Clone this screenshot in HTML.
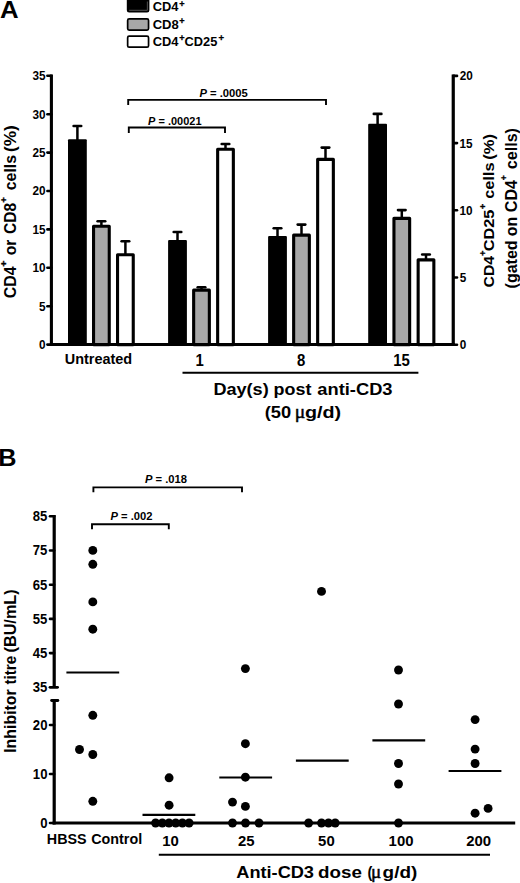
<!DOCTYPE html>
<html lang="en">
<head>
<meta charset="utf-8">
<title>Figure</title>
<style>
html,body{margin:0;padding:0;background:#fff;}
svg{display:block;}
text{font-family:"Liberation Sans", Arial, Helvetica, sans-serif;font-weight:bold;fill:#000;}
</style>
</head>
<body>
<svg width="520" height="883" viewBox="0 0 520 883">
<rect x="0" y="0" width="520" height="883" fill="#fff"/>
<rect x="127.65" y="-3" width="20.900000000000006" height="14.75" rx="1.5" ry="1.5" fill="#000" stroke="#000" stroke-width="1.7"/>
<polyline points="129.15,10.3 147.35000000000002,10.3 147.35000000000002,1.5" fill="none" stroke="#8a8a8a" stroke-width="0.6"/>
<rect x="127.65" y="18.9" width="20.900000000000006" height="11.2" rx="1.5" ry="1.5" fill="#a8a8a8" stroke="#000" stroke-width="1.7"/>
<rect x="127.65" y="36.2" width="20.900000000000006" height="11.0" rx="1.5" ry="1.5" fill="#fff" stroke="#000" stroke-width="1.7"/>
<line x1="51.4" y1="74.50000000000001" x2="51.4" y2="346.1" stroke="#000" stroke-width="3.1"/>
<line x1="49.849999999999994" y1="344.6" x2="454.84999999999997" y2="344.6" stroke="#000" stroke-width="3"/>
<line x1="453.25" y1="74.60000000000001" x2="453.25" y2="346.1" stroke="#000" stroke-width="3.2"/>
<line x1="47.4" y1="344.6" x2="51.3" y2="344.6" stroke="#000" stroke-width="2.6" stroke-linecap="round"/>
<line x1="47.4" y1="306.20000000000005" x2="51.3" y2="306.20000000000005" stroke="#000" stroke-width="2.6" stroke-linecap="round"/>
<line x1="47.4" y1="267.8" x2="51.3" y2="267.8" stroke="#000" stroke-width="2.6" stroke-linecap="round"/>
<line x1="47.4" y1="229.40000000000003" x2="51.3" y2="229.40000000000003" stroke="#000" stroke-width="2.6" stroke-linecap="round"/>
<line x1="47.4" y1="191.00000000000003" x2="51.3" y2="191.00000000000003" stroke="#000" stroke-width="2.6" stroke-linecap="round"/>
<line x1="47.4" y1="152.60000000000002" x2="51.3" y2="152.60000000000002" stroke="#000" stroke-width="2.6" stroke-linecap="round"/>
<line x1="47.4" y1="114.20000000000005" x2="51.3" y2="114.20000000000005" stroke="#000" stroke-width="2.6" stroke-linecap="round"/>
<line x1="47.4" y1="75.80000000000001" x2="51.3" y2="75.80000000000001" stroke="#000" stroke-width="2.6" stroke-linecap="round"/>
<line x1="453.4" y1="344.7" x2="457.0" y2="344.7" stroke="#000" stroke-width="2.6" stroke-linecap="round"/>
<line x1="453.4" y1="277.5" x2="457.0" y2="277.5" stroke="#000" stroke-width="2.6" stroke-linecap="round"/>
<line x1="453.4" y1="210.29999999999998" x2="457.0" y2="210.29999999999998" stroke="#000" stroke-width="2.6" stroke-linecap="round"/>
<line x1="453.4" y1="143.1" x2="457.0" y2="143.1" stroke="#000" stroke-width="2.6" stroke-linecap="round"/>
<line x1="453.4" y1="75.89999999999998" x2="457.0" y2="75.89999999999998" stroke="#000" stroke-width="2.6" stroke-linecap="round"/>
<line x1="77.4" y1="126.0" x2="77.4" y2="141.3" stroke="#000" stroke-width="2.5"/>
<line x1="73.60000000000001" y1="126.0" x2="81.2" y2="126.0" stroke="#000" stroke-width="2.6" stroke-linecap="round"/>
<rect x="68.0" y="139.3" width="18.8" height="205.3" rx="1" ry="1" fill="#000"/>
<line x1="101.4" y1="221.2" x2="101.4" y2="226.7" stroke="#000" stroke-width="2.5"/>
<line x1="97.60000000000001" y1="221.2" x2="105.2" y2="221.2" stroke="#000" stroke-width="2.6" stroke-linecap="round"/>
<rect x="93.55" y="226.25" width="15.700000000000001" height="118.35000000000004" fill="#a8a8a8" stroke="#000" stroke-width="3.1" stroke-linejoin="round"/>
<line x1="125.4" y1="241.3" x2="125.4" y2="255.2" stroke="#000" stroke-width="2.5"/>
<line x1="121.60000000000001" y1="241.3" x2="129.20000000000002" y2="241.3" stroke="#000" stroke-width="2.6" stroke-linecap="round"/>
<rect x="117.55" y="254.75" width="15.700000000000001" height="89.85000000000004" fill="#fff" stroke="#000" stroke-width="3.1" stroke-linejoin="round"/>
<line x1="177.5" y1="232.0" x2="177.5" y2="242.0" stroke="#000" stroke-width="2.5"/>
<line x1="173.7" y1="232.0" x2="181.3" y2="232.0" stroke="#000" stroke-width="2.6" stroke-linecap="round"/>
<rect x="168.1" y="240.0" width="18.8" height="104.60000000000002" rx="1" ry="1" fill="#000"/>
<line x1="201.5" y1="287.3" x2="201.5" y2="290.6" stroke="#000" stroke-width="2.5"/>
<line x1="197.7" y1="287.3" x2="205.3" y2="287.3" stroke="#000" stroke-width="2.6" stroke-linecap="round"/>
<rect x="193.65" y="290.15000000000003" width="15.700000000000001" height="54.45" fill="#a8a8a8" stroke="#000" stroke-width="3.1" stroke-linejoin="round"/>
<line x1="225.5" y1="144.0" x2="225.5" y2="149.7" stroke="#000" stroke-width="2.5"/>
<line x1="221.7" y1="144.0" x2="229.3" y2="144.0" stroke="#000" stroke-width="2.6" stroke-linecap="round"/>
<rect x="217.65" y="149.25" width="15.700000000000001" height="195.35000000000002" fill="#fff" stroke="#000" stroke-width="3.1" stroke-linejoin="round"/>
<line x1="277.5" y1="228.2" x2="277.5" y2="238.0" stroke="#000" stroke-width="2.5"/>
<line x1="273.7" y1="228.2" x2="281.3" y2="228.2" stroke="#000" stroke-width="2.6" stroke-linecap="round"/>
<rect x="268.1" y="236.0" width="18.8" height="108.60000000000002" rx="1" ry="1" fill="#000"/>
<line x1="301.5" y1="224.6" x2="301.5" y2="235.6" stroke="#000" stroke-width="2.5"/>
<line x1="297.7" y1="224.6" x2="305.3" y2="224.6" stroke="#000" stroke-width="2.6" stroke-linecap="round"/>
<rect x="293.65000000000003" y="235.15" width="15.700000000000001" height="109.45000000000003" fill="#a8a8a8" stroke="#000" stroke-width="3.1" stroke-linejoin="round"/>
<line x1="325.5" y1="147.6" x2="325.5" y2="159.8" stroke="#000" stroke-width="2.5"/>
<line x1="321.7" y1="147.6" x2="329.3" y2="147.6" stroke="#000" stroke-width="2.6" stroke-linecap="round"/>
<rect x="317.65000000000003" y="159.35000000000002" width="15.700000000000001" height="185.25" fill="#fff" stroke="#000" stroke-width="3.1" stroke-linejoin="round"/>
<line x1="377.6" y1="113.9" x2="377.6" y2="125.8" stroke="#000" stroke-width="2.5"/>
<line x1="373.8" y1="113.9" x2="381.40000000000003" y2="113.9" stroke="#000" stroke-width="2.6" stroke-linecap="round"/>
<rect x="368.20000000000005" y="123.8" width="18.8" height="220.8" rx="1" ry="1" fill="#000"/>
<line x1="401.8" y1="210.1" x2="401.8" y2="218.8" stroke="#000" stroke-width="2.5"/>
<line x1="398.0" y1="210.1" x2="405.6" y2="210.1" stroke="#000" stroke-width="2.6" stroke-linecap="round"/>
<rect x="393.95000000000005" y="218.35000000000002" width="15.700000000000001" height="126.25000000000001" fill="#a8a8a8" stroke="#000" stroke-width="3.1" stroke-linejoin="round"/>
<line x1="426.0" y1="254.5" x2="426.0" y2="260.3" stroke="#000" stroke-width="2.5"/>
<line x1="422.2" y1="254.5" x2="429.8" y2="254.5" stroke="#000" stroke-width="2.6" stroke-linecap="round"/>
<rect x="418.15000000000003" y="259.85" width="15.700000000000001" height="84.75000000000001" fill="#fff" stroke="#000" stroke-width="3.1" stroke-linejoin="round"/>
<polyline points="128.2,104.9 128.2,99.9 326.0,99.9 326.0,104.9" fill="none" stroke="#000" stroke-width="1.9"/>
<polyline points="128.8,133.1 128.8,127.5 225.0,127.5 225.0,133.1" fill="none" stroke="#000" stroke-width="1.9"/>
<line x1="182.5" y1="372.8" x2="418.4" y2="372.8" stroke="#000" stroke-width="2.1"/>
<line x1="54.2" y1="700.5" x2="54.2" y2="824.5" stroke="#000" stroke-width="3.2"/>
<line x1="51.6" y1="700.5" x2="57.9" y2="700.5" stroke="#000" stroke-width="2.8" stroke-linecap="round"/>
<line x1="54.2" y1="515.0" x2="54.2" y2="687.3" stroke="#000" stroke-width="3.2"/>
<line x1="50.0" y1="687.3" x2="57.6" y2="687.3" stroke="#000" stroke-width="2.8" stroke-linecap="round"/>
<line x1="52.6" y1="823.0" x2="515.2" y2="823.0" stroke="#000" stroke-width="3"/>
<line x1="50.0" y1="823.0" x2="54.1" y2="823.0" stroke="#000" stroke-width="2.6" stroke-linecap="round"/>
<line x1="50.0" y1="774.0" x2="54.1" y2="774.0" stroke="#000" stroke-width="2.6" stroke-linecap="round"/>
<line x1="50.0" y1="725.0" x2="54.1" y2="725.0" stroke="#000" stroke-width="2.6" stroke-linecap="round"/>
<line x1="50.0" y1="653.0999999999999" x2="54.1" y2="653.0999999999999" stroke="#000" stroke-width="2.6" stroke-linecap="round"/>
<line x1="50.0" y1="618.9" x2="54.1" y2="618.9" stroke="#000" stroke-width="2.6" stroke-linecap="round"/>
<line x1="50.0" y1="584.6999999999999" x2="54.1" y2="584.6999999999999" stroke="#000" stroke-width="2.6" stroke-linecap="round"/>
<line x1="50.0" y1="550.5" x2="54.1" y2="550.5" stroke="#000" stroke-width="2.6" stroke-linecap="round"/>
<line x1="50.0" y1="516.3" x2="54.1" y2="516.3" stroke="#000" stroke-width="2.6" stroke-linecap="round"/>
<circle cx="92.8" cy="550.4" r="4.45" fill="#000"/>
<circle cx="92.8" cy="564.3" r="4.45" fill="#000"/>
<circle cx="92.8" cy="601.9" r="4.45" fill="#000"/>
<circle cx="92.8" cy="629.2" r="4.45" fill="#000"/>
<circle cx="92.8" cy="715.3" r="4.45" fill="#000"/>
<circle cx="79.5" cy="749.5" r="4.45" fill="#000"/>
<circle cx="92.8" cy="754.5" r="4.45" fill="#000"/>
<circle cx="92.8" cy="801.3" r="4.45" fill="#000"/>
<line x1="66.4" y1="672.5" x2="119.19999999999999" y2="672.5" stroke="#000" stroke-width="2.1"/>
<circle cx="169.1" cy="777.8" r="4.45" fill="#000"/>
<circle cx="169.1" cy="805.2" r="4.45" fill="#000"/>
<circle cx="155.6" cy="823.0" r="4.45" fill="#000"/>
<circle cx="162.3" cy="823.0" r="4.45" fill="#000"/>
<circle cx="169.0" cy="823.0" r="4.45" fill="#000"/>
<circle cx="175.7" cy="823.0" r="4.45" fill="#000"/>
<circle cx="182.4" cy="823.0" r="4.45" fill="#000"/>
<circle cx="189.1" cy="823.0" r="4.45" fill="#000"/>
<line x1="142.5" y1="814.9" x2="195.3" y2="814.9" stroke="#000" stroke-width="2.1"/>
<circle cx="245.4" cy="668.6" r="4.45" fill="#000"/>
<circle cx="245.4" cy="743.7" r="4.45" fill="#000"/>
<circle cx="245.4" cy="777.2" r="4.45" fill="#000"/>
<circle cx="232.5" cy="802.1" r="4.45" fill="#000"/>
<circle cx="245.4" cy="806.4" r="4.45" fill="#000"/>
<circle cx="232.5" cy="823.0" r="4.45" fill="#000"/>
<circle cx="245.5" cy="823.0" r="4.45" fill="#000"/>
<circle cx="259.0" cy="823.0" r="4.45" fill="#000"/>
<line x1="219.29999999999998" y1="777.5" x2="272.09999999999997" y2="777.5" stroke="#000" stroke-width="2.1"/>
<circle cx="321.5" cy="591.4" r="4.45" fill="#000"/>
<circle cx="308.6" cy="823.0" r="4.45" fill="#000"/>
<circle cx="321.5" cy="823.0" r="4.45" fill="#000"/>
<circle cx="328.5" cy="823.0" r="4.45" fill="#000"/>
<circle cx="335.2" cy="823.0" r="4.45" fill="#000"/>
<line x1="295.90000000000003" y1="760.6" x2="348.7" y2="760.6" stroke="#000" stroke-width="2.1"/>
<circle cx="398.5" cy="670.0" r="4.45" fill="#000"/>
<circle cx="398.5" cy="704.0" r="4.45" fill="#000"/>
<circle cx="398.5" cy="763.5" r="4.45" fill="#000"/>
<circle cx="398.5" cy="784.0" r="4.45" fill="#000"/>
<circle cx="398.5" cy="823.0" r="4.45" fill="#000"/>
<line x1="372.40000000000003" y1="740.4" x2="425.2" y2="740.4" stroke="#000" stroke-width="2.1"/>
<circle cx="475.1" cy="719.6" r="4.45" fill="#000"/>
<circle cx="475.1" cy="749.1" r="4.45" fill="#000"/>
<circle cx="475.1" cy="763.5" r="4.45" fill="#000"/>
<circle cx="488.1" cy="808.4" r="4.45" fill="#000"/>
<circle cx="475.1" cy="813.2" r="4.45" fill="#000"/>
<line x1="448.6" y1="771.0" x2="501.4" y2="771.0" stroke="#000" stroke-width="2.1"/>
<polyline points="93.4,492.2 93.4,487.4 242.0,487.4 242.0,492.2" fill="none" stroke="#000" stroke-width="1.9"/>
<polyline points="92.0,529.1999999999999 92.0,524.3 168.8,524.3 168.8,529.1999999999999" fill="none" stroke="#000" stroke-width="1.9"/>
<line x1="158.8" y1="854.7" x2="490.0" y2="854.7" stroke="#000" stroke-width="2.1"/>
<text transform="translate(0.60,17.90)" font-size="23.2" xml:space="preserve" style="white-space:pre"><tspan x="-0.64" y="-0.00" textLength="18.62" lengthAdjust="spacingAndGlyphs">A</tspan></text>
<text transform="translate(153.20,11.30)" font-size="12.5" xml:space="preserve" style="white-space:pre"><tspan x="-0.53" y="-0.00" textLength="25.80" lengthAdjust="spacingAndGlyphs">CD4</tspan><tspan x="26.01" y="-4.40" textLength="5.36" lengthAdjust="spacingAndGlyphs" font-size="9.40" stroke="#000" stroke-width="0.3">+</tspan></text>
<text transform="translate(153.20,28.60)" font-size="12.5" xml:space="preserve" style="white-space:pre"><tspan x="-0.54" y="-0.00" textLength="26.14" lengthAdjust="spacingAndGlyphs">CD8</tspan><tspan x="26.01" y="-4.40" textLength="5.36" lengthAdjust="spacingAndGlyphs" font-size="9.40" stroke="#000" stroke-width="0.3">+</tspan></text>
<text transform="translate(153.20,45.50)" font-size="12.5" xml:space="preserve" style="white-space:pre"><tspan x="-0.53" y="-0.00" textLength="25.80" lengthAdjust="spacingAndGlyphs">CD4</tspan><tspan x="26.01" y="-4.40" textLength="5.36" lengthAdjust="spacingAndGlyphs" font-size="9.40" stroke="#000" stroke-width="0.3">+</tspan><tspan x="31.38" y="-0.00" textLength="32.68" lengthAdjust="spacingAndGlyphs">CD25</tspan><tspan x="65.30" y="-4.40" textLength="5.59" lengthAdjust="spacingAndGlyphs" font-size="9.40" stroke="#000" stroke-width="0.3">+</tspan></text>
<text transform="translate(39.58,348.90)" font-size="12.3" xml:space="preserve" style="white-space:pre"><tspan x="-0.47" y="-0.00" textLength="6.57" lengthAdjust="spacingAndGlyphs">0</tspan></text>
<text transform="translate(39.32,310.50)" font-size="12.3" xml:space="preserve" style="white-space:pre"><tspan x="-0.36" y="-0.00" textLength="6.57" lengthAdjust="spacingAndGlyphs">5</tspan></text>
<text transform="translate(33.29,272.10)" font-size="12.3" xml:space="preserve" style="white-space:pre"><tspan x="-0.74" y="-0.00" textLength="13.13" lengthAdjust="spacingAndGlyphs">10</tspan></text>
<text transform="translate(33.14,233.70)" font-size="12.3" xml:space="preserve" style="white-space:pre"><tspan x="-0.74" y="-0.00" textLength="13.13" lengthAdjust="spacingAndGlyphs">15</tspan></text>
<text transform="translate(32.96,195.30)" font-size="12.3" xml:space="preserve" style="white-space:pre"><tspan x="-0.41" y="-0.00" textLength="13.13" lengthAdjust="spacingAndGlyphs">20</tspan></text>
<text transform="translate(32.80,156.90)" font-size="12.3" xml:space="preserve" style="white-space:pre"><tspan x="-0.41" y="-0.00" textLength="13.13" lengthAdjust="spacingAndGlyphs">25</tspan></text>
<text transform="translate(32.82,118.50)" font-size="12.3" xml:space="preserve" style="white-space:pre"><tspan x="-0.27" y="-0.00" textLength="13.13" lengthAdjust="spacingAndGlyphs">30</tspan></text>
<text transform="translate(32.67,80.10)" font-size="12.3" xml:space="preserve" style="white-space:pre"><tspan x="-0.27" y="-0.00" textLength="13.13" lengthAdjust="spacingAndGlyphs">35</tspan></text>
<text transform="translate(460.20,349.10)" font-size="12.5" xml:space="preserve" style="white-space:pre"><tspan x="-0.46" y="-0.00" textLength="6.53" lengthAdjust="spacingAndGlyphs">0</tspan></text>
<text transform="translate(460.20,281.90)" font-size="12.5" xml:space="preserve" style="white-space:pre"><tspan x="-0.36" y="-0.00" textLength="6.53" lengthAdjust="spacingAndGlyphs">5</tspan></text>
<text transform="translate(460.20,214.70)" font-size="12.5" xml:space="preserve" style="white-space:pre"><tspan x="-0.74" y="-0.00" textLength="13.07" lengthAdjust="spacingAndGlyphs">10</tspan></text>
<text transform="translate(460.20,147.50)" font-size="12.5" xml:space="preserve" style="white-space:pre"><tspan x="-0.74" y="-0.00" textLength="13.07" lengthAdjust="spacingAndGlyphs">15</tspan></text>
<text transform="translate(460.20,80.30)" font-size="12.5" xml:space="preserve" style="white-space:pre"><tspan x="-0.41" y="-0.00" textLength="13.07" lengthAdjust="spacingAndGlyphs">20</tspan></text>
<text transform="translate(199.60,96.70)" font-size="10.6" xml:space="preserve" style="white-space:pre"><tspan x="-0.20" y="-0.00" textLength="7.49" lengthAdjust="spacingAndGlyphs" font-style="italic">P</tspan><tspan x="7.30" y="-0.00" textLength="40.92" lengthAdjust="spacingAndGlyphs"> = .0005</tspan></text>
<text transform="translate(148.30,124.50)" font-size="10.6" xml:space="preserve" style="white-space:pre"><tspan x="-0.19" y="-0.00" textLength="7.32" lengthAdjust="spacingAndGlyphs" font-style="italic">P</tspan><tspan x="7.13" y="-0.00" textLength="46.08" lengthAdjust="spacingAndGlyphs"> = .00021</tspan></text>
<text transform="translate(65.60,364.40)" font-size="14.0" xml:space="preserve" style="white-space:pre"><tspan x="-0.87" y="-0.00" textLength="67.42" lengthAdjust="spacingAndGlyphs">Untreated</tspan></text>
<text transform="translate(196.33,365.80)" font-size="15.8" xml:space="preserve" style="white-space:pre"><tspan x="-0.94" y="-0.00" textLength="8.30" lengthAdjust="spacingAndGlyphs">1</tspan></text>
<text transform="translate(297.51,365.80)" font-size="15.8" xml:space="preserve" style="white-space:pre"><tspan x="-0.47" y="-0.00" textLength="8.30" lengthAdjust="spacingAndGlyphs">8</tspan></text>
<text transform="translate(394.07,365.80)" font-size="15.8" xml:space="preserve" style="white-space:pre"><tspan x="-0.94" y="-0.00" textLength="16.61" lengthAdjust="spacingAndGlyphs">15</tspan></text>
<text transform="translate(214.60,395.00)" font-size="16.5" xml:space="preserve" style="white-space:pre"><tspan x="-1.21" y="-0.00" textLength="60.34" lengthAdjust="spacingAndGlyphs">Day(s) </tspan><tspan x="59.02" y="-0.00" textLength="42.77" lengthAdjust="spacingAndGlyphs">post </tspan><tspan x="102.76" y="-0.00" textLength="75.20" lengthAdjust="spacingAndGlyphs">anti-CD3</tspan></text>
<text transform="translate(265.60,417.90)" font-size="16.5" xml:space="preserve" style="white-space:pre"><tspan x="-0.91" y="-0.00" textLength="31.55" lengthAdjust="spacingAndGlyphs">(50 </tspan><tspan x="29.11" y="-0.00" textLength="10.49" lengthAdjust="spacingAndGlyphs" font-size="18.50" stroke="#000" stroke-width="0.45" font-weight="normal" font-family="'Liberation Serif', 'DejaVu Serif', serif">μ</tspan><tspan x="39.39" y="-0.00" textLength="36.19" lengthAdjust="spacingAndGlyphs">g/d)</tspan></text>
<text transform="translate(16.20,297.70) rotate(-90)" font-size="15.6" xml:space="preserve" style="white-space:pre"><tspan x="-0.65" y="-0.00" textLength="31.94" lengthAdjust="spacingAndGlyphs">CD4</tspan><tspan x="30.95" y="-9.40" textLength="9.28" lengthAdjust="spacingAndGlyphs" font-size="9.60" stroke="#000" stroke-width="0.3">+ </tspan><tspan x="42.49" y="-0.00" textLength="20.00" lengthAdjust="spacingAndGlyphs">or </tspan><tspan x="63.76" y="-0.00" textLength="31.12" lengthAdjust="spacingAndGlyphs">CD8</tspan><tspan x="94.89" y="-9.40" textLength="8.42" lengthAdjust="spacingAndGlyphs" font-size="9.60" stroke="#000" stroke-width="0.3">+ </tspan><tspan x="107.48" y="-0.00" textLength="39.68" lengthAdjust="spacingAndGlyphs">cells </tspan><tspan x="145.64" y="-0.00" textLength="26.92" lengthAdjust="spacingAndGlyphs">(%)</tspan></text>
<text transform="translate(494.40,286.80) rotate(-90)" font-size="15.2" xml:space="preserve" style="white-space:pre"><tspan x="-0.64" y="-0.00" textLength="31.43" lengthAdjust="spacingAndGlyphs">CD4</tspan><tspan x="30.81" y="-8.90" textLength="5.36" lengthAdjust="spacingAndGlyphs" font-size="9.60" stroke="#000" stroke-width="0.3">+</tspan><tspan x="35.53" y="-0.00" textLength="41.72" lengthAdjust="spacingAndGlyphs">CD25</tspan><tspan x="77.60" y="-8.90" textLength="8.25" lengthAdjust="spacingAndGlyphs" font-size="9.60" stroke="#000" stroke-width="0.3">+ </tspan><tspan x="87.96" y="-0.00" textLength="40.84" lengthAdjust="spacingAndGlyphs">cells </tspan><tspan x="127.08" y="-0.00" textLength="25.75" lengthAdjust="spacingAndGlyphs">(%)</tspan></text>
<text transform="translate(516.70,287.60) rotate(-90)" font-size="16.0" xml:space="preserve" style="white-space:pre"><tspan x="-0.80" y="-0.00" textLength="52.50" lengthAdjust="spacingAndGlyphs">(gated </tspan><tspan x="51.38" y="-0.00" textLength="23.68" lengthAdjust="spacingAndGlyphs">on </tspan><tspan x="75.44" y="-0.00" textLength="32.15" lengthAdjust="spacingAndGlyphs">CD4</tspan><tspan x="107.24" y="-9.30" textLength="7.39" lengthAdjust="spacingAndGlyphs" font-size="9.60" stroke="#000" stroke-width="0.3">+ </tspan><tspan x="118.47" y="-0.00" textLength="41.03" lengthAdjust="spacingAndGlyphs">cells)</tspan></text>
<text transform="translate(-0.10,466.10)" font-size="24.4" xml:space="preserve" style="white-space:pre"><tspan x="-1.69" y="-0.00" textLength="18.24" lengthAdjust="spacingAndGlyphs">B</tspan></text>
<text transform="translate(40.66,827.90)" font-size="15.0" xml:space="preserve" style="white-space:pre"><tspan x="-0.52" y="-0.00" textLength="7.30" lengthAdjust="spacingAndGlyphs">0</tspan></text>
<text transform="translate(33.67,778.90)" font-size="15.0" xml:space="preserve" style="white-space:pre"><tspan x="-0.83" y="-0.00" textLength="14.60" lengthAdjust="spacingAndGlyphs">10</tspan></text>
<text transform="translate(33.29,729.90)" font-size="15.0" xml:space="preserve" style="white-space:pre"><tspan x="-0.46" y="-0.00" textLength="14.60" lengthAdjust="spacingAndGlyphs">20</tspan></text>
<text transform="translate(32.97,692.20)" font-size="15.0" xml:space="preserve" style="white-space:pre"><tspan x="-0.30" y="-0.00" textLength="14.60" lengthAdjust="spacingAndGlyphs">35</tspan></text>
<text transform="translate(32.86,658.00)" font-size="15.0" xml:space="preserve" style="white-space:pre"><tspan x="-0.20" y="-0.00" textLength="14.60" lengthAdjust="spacingAndGlyphs">45</tspan></text>
<text transform="translate(33.07,623.80)" font-size="15.0" xml:space="preserve" style="white-space:pre"><tspan x="-0.40" y="-0.00" textLength="14.60" lengthAdjust="spacingAndGlyphs">55</tspan></text>
<text transform="translate(33.15,589.60)" font-size="15.0" xml:space="preserve" style="white-space:pre"><tspan x="-0.48" y="-0.00" textLength="14.60" lengthAdjust="spacingAndGlyphs">65</tspan></text>
<text transform="translate(33.23,555.40)" font-size="15.0" xml:space="preserve" style="white-space:pre"><tspan x="-0.56" y="-0.00" textLength="14.60" lengthAdjust="spacingAndGlyphs">75</tspan></text>
<text transform="translate(33.08,521.20)" font-size="15.0" xml:space="preserve" style="white-space:pre"><tspan x="-0.42" y="-0.00" textLength="14.60" lengthAdjust="spacingAndGlyphs">85</tspan></text>
<text transform="translate(145.10,483.10)" font-size="10.8" xml:space="preserve" style="white-space:pre"><tspan x="-0.20" y="-0.00" textLength="7.47" lengthAdjust="spacingAndGlyphs" font-style="italic">P</tspan><tspan x="7.27" y="-0.00" textLength="34.57" lengthAdjust="spacingAndGlyphs"> = .018</tspan></text>
<text transform="translate(110.60,520.10)" font-size="10.8" xml:space="preserve" style="white-space:pre"><tspan x="-0.20" y="-0.00" textLength="7.47" lengthAdjust="spacingAndGlyphs" font-style="italic">P</tspan><tspan x="7.28" y="-0.00" textLength="34.57" lengthAdjust="spacingAndGlyphs"> = .002</tspan></text>
<text transform="translate(47.80,844.00)" font-size="14.0" xml:space="preserve" style="white-space:pre"><tspan x="-0.96" y="-0.00" textLength="43.80" lengthAdjust="spacingAndGlyphs">HBSS </tspan><tspan x="43.41" y="-0.00" textLength="50.90" lengthAdjust="spacingAndGlyphs">Control</tspan></text>
<text transform="translate(163.09,845.90)" font-size="15.2" xml:space="preserve" style="white-space:pre"><tspan x="-0.94" y="-0.00" textLength="16.57" lengthAdjust="spacingAndGlyphs">10</tspan></text>
<text transform="translate(238.58,845.90)" font-size="15.2" xml:space="preserve" style="white-space:pre"><tspan x="-0.52" y="-0.00" textLength="16.57" lengthAdjust="spacingAndGlyphs">25</tspan></text>
<text transform="translate(318.55,845.90)" font-size="15.2" xml:space="preserve" style="white-space:pre"><tspan x="-0.46" y="-0.00" textLength="16.57" lengthAdjust="spacingAndGlyphs">50</tspan></text>
<text transform="translate(389.55,845.90)" font-size="15.2" xml:space="preserve" style="white-space:pre"><tspan x="-0.94" y="-0.00" textLength="24.85" lengthAdjust="spacingAndGlyphs">100</tspan></text>
<text transform="translate(466.74,845.90)" font-size="15.2" xml:space="preserve" style="white-space:pre"><tspan x="-0.52" y="-0.00" textLength="24.85" lengthAdjust="spacingAndGlyphs">200</tspan></text>
<text transform="translate(236.70,878.00)" font-size="16.3" xml:space="preserve" style="white-space:pre"><tspan x="-0.45" y="-0.00" textLength="82.76" lengthAdjust="spacingAndGlyphs">Anti-CD3 </tspan><tspan x="81.33" y="-0.00" textLength="49.03" lengthAdjust="spacingAndGlyphs">dose </tspan><tspan x="130.78" y="-0.00" textLength="4.84" lengthAdjust="spacingAndGlyphs">(</tspan><tspan x="134.25" y="-0.00" textLength="10.23" lengthAdjust="spacingAndGlyphs" font-size="18.50" stroke="#000" stroke-width="0.45" font-weight="normal" font-family="'Liberation Serif', 'DejaVu Serif', serif">μ</tspan><tspan x="145.93" y="-0.00" textLength="34.62" lengthAdjust="spacingAndGlyphs">g/d)</tspan></text>
<text transform="translate(15.70,751.80) rotate(-90)" font-size="15.9" xml:space="preserve" style="white-space:pre"><tspan x="-1.06" y="-0.00" textLength="68.02" lengthAdjust="spacingAndGlyphs">Inhibitor </tspan><tspan x="67.21" y="-0.00" textLength="32.93" lengthAdjust="spacingAndGlyphs">titre </tspan><tspan x="99.29" y="-0.00" textLength="63.22" lengthAdjust="spacingAndGlyphs">(BU/mL)</tspan></text>
</svg>
</body>
</html>
